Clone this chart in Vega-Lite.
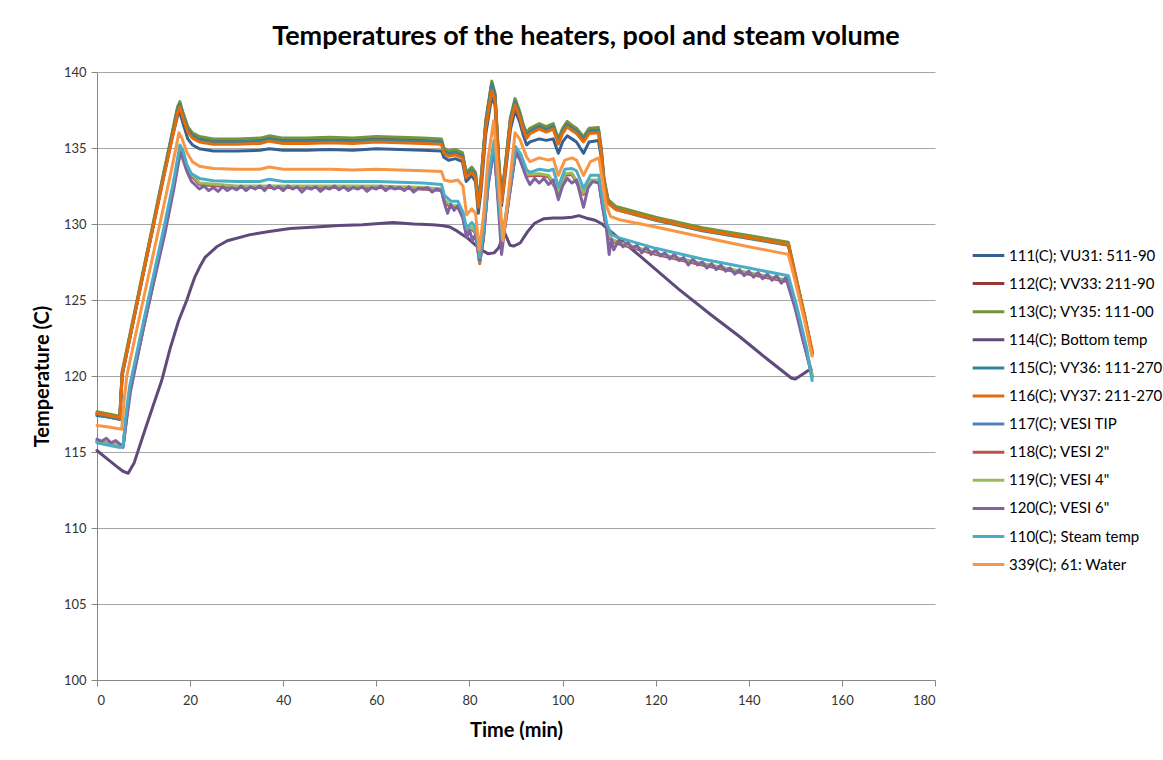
{
"$schema":"https://vega.github.io/schema/vega-lite/v6.json",
"width":838,"height":608,
"autosize":{"type":"none"},
"padding":{"left":97,"top":72,"right":228,"bottom":80},
"background":"white",
"config":{"font":"Lato","view":{"stroke":null}},
"title":{"text":"Temperatures of the heaters, pool and steam volume","fontSize":27,"fontWeight":"bold","font":"Lato","color":"#000000","anchor":"middle","dx":70,"offset":15},
"data":{"values":[
{"k":"a111","t":0,"v":117.4},{"k":"a111","t":2.5,"v":117.3},{"k":"a111","t":4.9,"v":117.15},{"k":"a111","t":5.4,"v":120.0},{"k":"a111","t":8,"v":123.9},{"k":"a111","t":11,"v":128.3},{"k":"a111","t":14,"v":132.7},{"k":"a111","t":16,"v":135.5},{"k":"a111","t":17.3,"v":137.1},{"k":"a111","t":17.8,"v":137.35},{"k":"a111","t":18.5,"v":136.6},{"k":"a111","t":19.5,"v":135.6},{"k":"a111","t":20.5,"v":135.2},{"k":"a111","t":22,"v":134.95},{"k":"a111","t":25,"v":134.8},{"k":"a111","t":30,"v":134.8},{"k":"a111","t":35,"v":134.85},{"k":"a111","t":37,"v":134.95},{"k":"a111","t":40,"v":134.85},{"k":"a111","t":45,"v":134.85},{"k":"a111","t":50,"v":134.9},{"k":"a111","t":55,"v":134.85},{"k":"a111","t":60,"v":134.95},{"k":"a111","t":65,"v":134.9},{"k":"a111","t":70,"v":134.85},{"k":"a111","t":74,"v":134.8},{"k":"a111","t":74.5,"v":134.4},{"k":"a111","t":75.5,"v":134.2},{"k":"a111","t":77,"v":134.3},{"k":"a111","t":78.5,"v":134.1},{"k":"a111","t":79.3,"v":132.8},{"k":"a111","t":80.5,"v":133.2},{"k":"a111","t":81.3,"v":132.8},{"k":"a111","t":81.9,"v":130.7},{"k":"a111","t":82.5,"v":132.2},{"k":"a111","t":83.5,"v":135.9},{"k":"a111","t":84.8,"v":138.4},{"k":"a111","t":85.5,"v":137.8},{"k":"a111","t":86.3,"v":133.5},{"k":"a111","t":86.9,"v":131.2},{"k":"a111","t":87.6,"v":133.0},{"k":"a111","t":88.8,"v":136.2},{"k":"a111","t":89.8,"v":137.5},{"k":"a111","t":90.8,"v":136.7},{"k":"a111","t":91.6,"v":135.8},{"k":"a111","t":92.3,"v":135.2},{"k":"a111","t":93,"v":135.4},{"k":"a111","t":95,"v":135.6},{"k":"a111","t":96.5,"v":135.5},{"k":"a111","t":98,"v":135.6},{"k":"a111","t":99.1,"v":134.65},{"k":"a111","t":100,"v":135.4},{"k":"a111","t":101,"v":135.8},{"k":"a111","t":102,"v":135.6},{"k":"a111","t":103,"v":135.4},{"k":"a111","t":104.5,"v":134.65},{"k":"a111","t":105.7,"v":135.4},{"k":"a111","t":107.7,"v":135.5},{"k":"a111","t":108.3,"v":134.4},{"k":"a111","t":108.9,"v":132.7},{"k":"a111","t":109.8,"v":131.4},{"k":"a111","t":111.5,"v":131.0},{"k":"a111","t":120,"v":130.3},{"k":"a111","t":130,"v":129.6},{"k":"a111","t":140,"v":129.1},{"k":"a111","t":148.5,"v":128.65},{"k":"a111","t":150,"v":126.6},{"k":"a111","t":152,"v":123.9},{"k":"a111","t":153.6,"v":121.5},
{"k":"a112","t":0,"v":117.55},{"k":"a112","t":2.5,"v":117.4},{"k":"a112","t":4.9,"v":117.25},{"k":"a112","t":5.4,"v":120.2},{"k":"a112","t":8,"v":124.0},{"k":"a112","t":11,"v":128.4},{"k":"a112","t":14,"v":132.8},{"k":"a112","t":16,"v":135.7},{"k":"a112","t":17.3,"v":137.6},{"k":"a112","t":17.8,"v":137.95},{"k":"a112","t":18.5,"v":137.2},{"k":"a112","t":19.5,"v":136.3},{"k":"a112","t":20.5,"v":135.9},{"k":"a112","t":22,"v":135.65},{"k":"a112","t":25,"v":135.5},{"k":"a112","t":30,"v":135.5},{"k":"a112","t":35,"v":135.55},{"k":"a112","t":37,"v":135.7},{"k":"a112","t":40,"v":135.55},{"k":"a112","t":45,"v":135.55},{"k":"a112","t":50,"v":135.6},{"k":"a112","t":55,"v":135.55},{"k":"a112","t":60,"v":135.65},{"k":"a112","t":65,"v":135.6},{"k":"a112","t":70,"v":135.55},{"k":"a112","t":74,"v":135.5},{"k":"a112","t":74.5,"v":134.9},{"k":"a112","t":75.5,"v":134.7},{"k":"a112","t":77,"v":134.8},{"k":"a112","t":78.5,"v":134.6},{"k":"a112","t":79.3,"v":133.3},{"k":"a112","t":80.5,"v":133.65},{"k":"a112","t":81.3,"v":133.3},{"k":"a112","t":81.9,"v":131.4},{"k":"a112","t":82.5,"v":132.9},{"k":"a112","t":83.5,"v":136.7},{"k":"a112","t":84.8,"v":139.3},{"k":"a112","t":85.5,"v":138.5},{"k":"a112","t":86.3,"v":134.1},{"k":"a112","t":86.9,"v":131.7},{"k":"a112","t":87.6,"v":133.5},{"k":"a112","t":88.8,"v":136.9},{"k":"a112","t":89.8,"v":138.15},{"k":"a112","t":90.8,"v":137.3},{"k":"a112","t":91.6,"v":136.4},{"k":"a112","t":92.3,"v":135.9},{"k":"a112","t":93,"v":136.2},{"k":"a112","t":95,"v":136.5},{"k":"a112","t":96.5,"v":136.3},{"k":"a112","t":98,"v":136.5},{"k":"a112","t":99.1,"v":135.5},{"k":"a112","t":100,"v":136.2},{"k":"a112","t":101,"v":136.65},{"k":"a112","t":102,"v":136.4},{"k":"a112","t":103,"v":136.2},{"k":"a112","t":104.5,"v":135.65},{"k":"a112","t":105.7,"v":136.2},{"k":"a112","t":107.7,"v":136.25},{"k":"a112","t":108.3,"v":134.9},{"k":"a112","t":108.9,"v":132.9},{"k":"a112","t":109.8,"v":131.5},{"k":"a112","t":111.5,"v":131.05},{"k":"a112","t":120,"v":130.35},{"k":"a112","t":130,"v":129.65},{"k":"a112","t":140,"v":129.15},{"k":"a112","t":148.5,"v":128.7},{"k":"a112","t":150,"v":126.6},{"k":"a112","t":152,"v":123.9},{"k":"a112","t":153.6,"v":121.5},
{"k":"a113","t":0,"v":117.65},{"k":"a113","t":2.5,"v":117.5},{"k":"a113","t":4.9,"v":117.35},{"k":"a113","t":5.4,"v":120.3},{"k":"a113","t":8,"v":124.1},{"k":"a113","t":11,"v":128.5},{"k":"a113","t":14,"v":132.9},{"k":"a113","t":16,"v":135.8},{"k":"a113","t":17.3,"v":137.7},{"k":"a113","t":17.8,"v":138.05},{"k":"a113","t":18.5,"v":137.3},{"k":"a113","t":19.5,"v":136.4},{"k":"a113","t":20.5,"v":136.0},{"k":"a113","t":22,"v":135.75},{"k":"a113","t":25,"v":135.6},{"k":"a113","t":30,"v":135.6},{"k":"a113","t":35,"v":135.65},{"k":"a113","t":37,"v":135.8},{"k":"a113","t":40,"v":135.65},{"k":"a113","t":45,"v":135.65},{"k":"a113","t":50,"v":135.7},{"k":"a113","t":55,"v":135.65},{"k":"a113","t":60,"v":135.75},{"k":"a113","t":65,"v":135.7},{"k":"a113","t":70,"v":135.65},{"k":"a113","t":74,"v":135.6},{"k":"a113","t":74.5,"v":135.0},{"k":"a113","t":75.5,"v":134.8},{"k":"a113","t":77,"v":134.9},{"k":"a113","t":78.5,"v":134.7},{"k":"a113","t":79.3,"v":133.4},{"k":"a113","t":80.5,"v":133.75},{"k":"a113","t":81.3,"v":133.4},{"k":"a113","t":81.9,"v":131.5},{"k":"a113","t":82.5,"v":133.0},{"k":"a113","t":83.5,"v":136.8},{"k":"a113","t":84.8,"v":139.4},{"k":"a113","t":85.5,"v":138.6},{"k":"a113","t":86.3,"v":134.2},{"k":"a113","t":86.9,"v":131.8},{"k":"a113","t":87.6,"v":133.6},{"k":"a113","t":88.8,"v":137.0},{"k":"a113","t":89.8,"v":138.25},{"k":"a113","t":90.8,"v":137.4},{"k":"a113","t":91.6,"v":136.5},{"k":"a113","t":92.3,"v":136.0},{"k":"a113","t":93,"v":136.3},{"k":"a113","t":95,"v":136.6},{"k":"a113","t":96.5,"v":136.4},{"k":"a113","t":98,"v":136.6},{"k":"a113","t":99.1,"v":135.6},{"k":"a113","t":100,"v":136.3},{"k":"a113","t":101,"v":136.75},{"k":"a113","t":102,"v":136.5},{"k":"a113","t":103,"v":136.3},{"k":"a113","t":104.5,"v":135.75},{"k":"a113","t":105.7,"v":136.3},{"k":"a113","t":107.7,"v":136.35},{"k":"a113","t":108.3,"v":135.0},{"k":"a113","t":108.9,"v":133.0},{"k":"a113","t":109.8,"v":131.6},{"k":"a113","t":111.5,"v":131.15},{"k":"a113","t":120,"v":130.45},{"k":"a113","t":130,"v":129.75},{"k":"a113","t":140,"v":129.25},{"k":"a113","t":148.5,"v":128.8},{"k":"a113","t":150,"v":126.7},{"k":"a113","t":152,"v":124.0},{"k":"a113","t":153.6,"v":121.6},
{"k":"a114","t":0,"v":115.1},{"k":"a114","t":2,"v":114.6},{"k":"a114","t":4,"v":114.1},{"k":"a114","t":5.5,"v":113.75},{"k":"a114","t":6.7,"v":113.6},{"k":"a114","t":8,"v":114.3},{"k":"a114","t":10.3,"v":116.45},{"k":"a114","t":12,"v":118.0},{"k":"a114","t":13.9,"v":119.7},{"k":"a114","t":15.7,"v":121.8},{"k":"a114","t":17.5,"v":123.6},{"k":"a114","t":19.3,"v":125.0},{"k":"a114","t":20.3,"v":125.9},{"k":"a114","t":21,"v":126.5},{"k":"a114","t":22.1,"v":127.2},{"k":"a114","t":23.2,"v":127.8},{"k":"a114","t":25.7,"v":128.5},{"k":"a114","t":28,"v":128.9},{"k":"a114","t":32.9,"v":129.3},{"k":"a114","t":37,"v":129.5},{"k":"a114","t":41.5,"v":129.7},{"k":"a114","t":47,"v":129.8},{"k":"a114","t":52,"v":129.9},{"k":"a114","t":57,"v":129.95},{"k":"a114","t":63.6,"v":130.1},{"k":"a114","t":68,"v":130.0},{"k":"a114","t":72,"v":129.95},{"k":"a114","t":74,"v":129.9},{"k":"a114","t":75.8,"v":129.8},{"k":"a114","t":77,"v":129.6},{"k":"a114","t":78.5,"v":129.3},{"k":"a114","t":79.5,"v":129.1},{"k":"a114","t":81,"v":128.7},{"k":"a114","t":82.5,"v":128.3},{"k":"a114","t":84,"v":128.05},{"k":"a114","t":85.3,"v":128.1},{"k":"a114","t":86.2,"v":128.4},{"k":"a114","t":86.9,"v":128.9},{"k":"a114","t":87.6,"v":129.4},{"k":"a114","t":88.7,"v":128.6},{"k":"a114","t":89.5,"v":128.55},{"k":"a114","t":90.9,"v":128.75},{"k":"a114","t":92.5,"v":129.5},{"k":"a114","t":94,"v":130.05},{"k":"a114","t":96,"v":130.35},{"k":"a114","t":98,"v":130.4},{"k":"a114","t":100,"v":130.4},{"k":"a114","t":102,"v":130.45},{"k":"a114","t":103.5,"v":130.55},{"k":"a114","t":105,"v":130.4},{"k":"a114","t":107,"v":130.25},{"k":"a114","t":108.5,"v":130.0},{"k":"a114","t":110,"v":129.6},{"k":"a114","t":116.6,"v":127.9},{"k":"a114","t":125,"v":125.7},{"k":"a114","t":132,"v":124.0},{"k":"a114","t":138,"v":122.6},{"k":"a114","t":144,"v":121.1},{"k":"a114","t":149.2,"v":119.85},{"k":"a114","t":150,"v":119.8},{"k":"a114","t":151.5,"v":120.1},{"k":"a114","t":152.7,"v":120.35},
{"k":"a115","t":0,"v":117.45},{"k":"a115","t":2.5,"v":117.3},{"k":"a115","t":4.9,"v":117.15},{"k":"a115","t":5.4,"v":120.1},{"k":"a115","t":8,"v":123.9},{"k":"a115","t":11,"v":128.3},{"k":"a115","t":14,"v":132.7},{"k":"a115","t":16,"v":135.6},{"k":"a115","t":17.3,"v":137.5},{"k":"a115","t":17.8,"v":137.85},{"k":"a115","t":18.5,"v":137.1},{"k":"a115","t":19.5,"v":136.2},{"k":"a115","t":20.5,"v":135.8},{"k":"a115","t":22,"v":135.55},{"k":"a115","t":25,"v":135.4},{"k":"a115","t":30,"v":135.4},{"k":"a115","t":35,"v":135.45},{"k":"a115","t":37,"v":135.6},{"k":"a115","t":40,"v":135.45},{"k":"a115","t":45,"v":135.45},{"k":"a115","t":50,"v":135.5},{"k":"a115","t":55,"v":135.45},{"k":"a115","t":60,"v":135.55},{"k":"a115","t":65,"v":135.5},{"k":"a115","t":70,"v":135.45},{"k":"a115","t":74,"v":135.4},{"k":"a115","t":74.5,"v":134.8},{"k":"a115","t":75.5,"v":134.6},{"k":"a115","t":77,"v":134.7},{"k":"a115","t":78.5,"v":134.5},{"k":"a115","t":79.3,"v":133.2},{"k":"a115","t":80.5,"v":133.55},{"k":"a115","t":81.3,"v":133.2},{"k":"a115","t":81.9,"v":131.3},{"k":"a115","t":82.5,"v":132.8},{"k":"a115","t":83.5,"v":136.6},{"k":"a115","t":84.8,"v":139.2},{"k":"a115","t":85.5,"v":138.4},{"k":"a115","t":86.3,"v":134.0},{"k":"a115","t":86.9,"v":131.6},{"k":"a115","t":87.6,"v":133.4},{"k":"a115","t":88.8,"v":136.8},{"k":"a115","t":89.8,"v":138.05},{"k":"a115","t":90.8,"v":137.2},{"k":"a115","t":91.6,"v":136.3},{"k":"a115","t":92.3,"v":135.8},{"k":"a115","t":93,"v":136.1},{"k":"a115","t":95,"v":136.4},{"k":"a115","t":96.5,"v":136.2},{"k":"a115","t":98,"v":136.4},{"k":"a115","t":99.1,"v":135.4},{"k":"a115","t":100,"v":136.1},{"k":"a115","t":101,"v":136.55},{"k":"a115","t":102,"v":136.3},{"k":"a115","t":103,"v":136.1},{"k":"a115","t":104.5,"v":135.55},{"k":"a115","t":105.7,"v":136.1},{"k":"a115","t":107.7,"v":136.15},{"k":"a115","t":108.3,"v":134.8},{"k":"a115","t":108.9,"v":132.8},{"k":"a115","t":109.8,"v":131.4},{"k":"a115","t":111.5,"v":130.95},{"k":"a115","t":120,"v":130.25},{"k":"a115","t":130,"v":129.55},{"k":"a115","t":140,"v":129.05},{"k":"a115","t":148.5,"v":128.6},{"k":"a115","t":150,"v":126.5},{"k":"a115","t":152,"v":123.8},{"k":"a115","t":153.6,"v":121.4},
{"k":"a116","t":0,"v":117.55},{"k":"a116","t":2.5,"v":117.4},{"k":"a116","t":4.9,"v":117.25},{"k":"a116","t":5.4,"v":120.1},{"k":"a116","t":8,"v":123.9},{"k":"a116","t":11,"v":128.3},{"k":"a116","t":14,"v":132.6},{"k":"a116","t":16,"v":135.4},{"k":"a116","t":17.3,"v":137.3},{"k":"a116","t":17.8,"v":137.7},{"k":"a116","t":18.5,"v":136.95},{"k":"a116","t":19.5,"v":136.05},{"k":"a116","t":20.5,"v":135.65},{"k":"a116","t":22,"v":135.4},{"k":"a116","t":25,"v":135.25},{"k":"a116","t":30,"v":135.25},{"k":"a116","t":35,"v":135.3},{"k":"a116","t":37,"v":135.45},{"k":"a116","t":40,"v":135.3},{"k":"a116","t":45,"v":135.3},{"k":"a116","t":50,"v":135.35},{"k":"a116","t":55,"v":135.3},{"k":"a116","t":60,"v":135.4},{"k":"a116","t":65,"v":135.35},{"k":"a116","t":70,"v":135.3},{"k":"a116","t":74,"v":135.25},{"k":"a116","t":74.5,"v":134.65},{"k":"a116","t":75.5,"v":134.45},{"k":"a116","t":77,"v":134.55},{"k":"a116","t":78.5,"v":134.35},{"k":"a116","t":79.3,"v":133.05},{"k":"a116","t":80.5,"v":133.4},{"k":"a116","t":81.3,"v":133.05},{"k":"a116","t":81.9,"v":131.1},{"k":"a116","t":82.5,"v":132.6},{"k":"a116","t":83.5,"v":136.3},{"k":"a116","t":84.8,"v":138.8},{"k":"a116","t":85.5,"v":138.1},{"k":"a116","t":86.3,"v":133.8},{"k":"a116","t":86.9,"v":131.4},{"k":"a116","t":87.6,"v":133.2},{"k":"a116","t":88.8,"v":136.6},{"k":"a116","t":89.8,"v":137.85},{"k":"a116","t":90.8,"v":137.0},{"k":"a116","t":91.6,"v":136.15},{"k":"a116","t":92.3,"v":135.65},{"k":"a116","t":93,"v":135.95},{"k":"a116","t":95,"v":136.25},{"k":"a116","t":96.5,"v":136.05},{"k":"a116","t":98,"v":136.25},{"k":"a116","t":99.1,"v":135.25},{"k":"a116","t":100,"v":135.95},{"k":"a116","t":101,"v":136.4},{"k":"a116","t":102,"v":136.15},{"k":"a116","t":103,"v":135.95},{"k":"a116","t":104.5,"v":135.4},{"k":"a116","t":105.7,"v":135.95},{"k":"a116","t":107.7,"v":136.0},{"k":"a116","t":108.3,"v":134.65},{"k":"a116","t":108.9,"v":132.7},{"k":"a116","t":109.8,"v":131.35},{"k":"a116","t":111.5,"v":130.95},{"k":"a116","t":120,"v":130.3},{"k":"a116","t":130,"v":129.6},{"k":"a116","t":140,"v":129.1},{"k":"a116","t":148.5,"v":128.65},{"k":"a116","t":150,"v":126.6},{"k":"a116","t":152,"v":123.9},{"k":"a116","t":153.6,"v":121.7},
{"k":"a117","t":0,"v":115.7},{"k":"a117","t":5,"v":115.45},{"k":"a117","t":5.6,"v":115.4},{"k":"a117","t":7,"v":118.95},{"k":"a117","t":10,"v":123.25},{"k":"a117","t":14.4,"v":129.45},{"k":"a117","t":16.5,"v":132.55},{"k":"a117","t":17.8,"v":134.85},{"k":"a117","t":19.3,"v":133.55},{"k":"a117","t":22,"v":132.65},{"k":"a117","t":30,"v":132.45},{"k":"a117","t":40,"v":132.45},{"k":"a117","t":50,"v":132.45},{"k":"a117","t":60,"v":132.45},{"k":"a117","t":70,"v":132.35},{"k":"a117","t":74,"v":132.25},{"k":"a117","t":74.6,"v":131.55},{"k":"a117","t":76,"v":131.15},{"k":"a117","t":77.5,"v":131.15},{"k":"a117","t":78.6,"v":130.45},{"k":"a117","t":79.4,"v":129.35},{"k":"a117","t":80.5,"v":129.75},{"k":"a117","t":81.3,"v":129.45},{"k":"a117","t":82.2,"v":127.45},{"k":"a117","t":83,"v":129.15},{"k":"a117","t":84,"v":132.65},{"k":"a117","t":85.3,"v":135.15},{"k":"a117","t":86.2,"v":131.65},{"k":"a117","t":87,"v":128.65},{"k":"a117","t":88,"v":130.65},{"k":"a117","t":89.9,"v":134.75},{"k":"a117","t":91,"v":134.25},{"k":"a117","t":92.3,"v":133.2},{"k":"a117","t":95,"v":133.25},{"k":"a117","t":97,"v":133.15},{"k":"a117","t":99.1,"v":132.1},{"k":"a117","t":100.5,"v":133.25},{"k":"a117","t":102,"v":133.3},{"k":"a117","t":104.5,"v":132.0},{"k":"a117","t":106,"v":132.85},{"k":"a117","t":107.8,"v":132.85},{"k":"a117","t":108.5,"v":131.45},{"k":"a117","t":109.5,"v":129.65},{"k":"a117","t":110.5,"v":128.95},{"k":"a117","t":112,"v":128.75},{"k":"a117","t":120,"v":128.05},{"k":"a117","t":130,"v":127.35},{"k":"a117","t":140,"v":126.75},{"k":"a117","t":148.5,"v":126.25},{"k":"a117","t":150.3,"v":124.25},{"k":"a117","t":152.4,"v":121.55},{"k":"a117","t":153.6,"v":119.9},
{"k":"a118","t":0,"v":115.7},{"k":"a118","t":5,"v":115.45},{"k":"a118","t":5.6,"v":115.4},{"k":"a118","t":7,"v":118.9},{"k":"a118","t":10,"v":123.2},{"k":"a118","t":14.4,"v":129.4},{"k":"a118","t":16.5,"v":132.5},{"k":"a118","t":17.8,"v":134.8},{"k":"a118","t":19.3,"v":133.5},{"k":"a118","t":22,"v":132.6},{"k":"a118","t":30,"v":132.4},{"k":"a118","t":40,"v":132.4},{"k":"a118","t":50,"v":132.4},{"k":"a118","t":60,"v":132.4},{"k":"a118","t":70,"v":132.3},{"k":"a118","t":74,"v":132.2},{"k":"a118","t":74.6,"v":131.5},{"k":"a118","t":76,"v":131.1},{"k":"a118","t":77.5,"v":131.1},{"k":"a118","t":78.6,"v":130.4},{"k":"a118","t":79.4,"v":129.3},{"k":"a118","t":80.5,"v":129.7},{"k":"a118","t":81.3,"v":129.4},{"k":"a118","t":82.2,"v":127.4},{"k":"a118","t":83,"v":129.1},{"k":"a118","t":84,"v":132.6},{"k":"a118","t":85.3,"v":135.1},{"k":"a118","t":86.2,"v":131.6},{"k":"a118","t":87,"v":128.6},{"k":"a118","t":88,"v":130.6},{"k":"a118","t":89.9,"v":134.7},{"k":"a118","t":91,"v":134.2},{"k":"a118","t":92.3,"v":133.15},{"k":"a118","t":95,"v":133.2},{"k":"a118","t":97,"v":133.1},{"k":"a118","t":99.1,"v":132.05},{"k":"a118","t":100.5,"v":133.2},{"k":"a118","t":102,"v":133.25},{"k":"a118","t":104.5,"v":131.95},{"k":"a118","t":106,"v":132.8},{"k":"a118","t":107.8,"v":132.8},{"k":"a118","t":108.5,"v":131.4},{"k":"a118","t":109.5,"v":129.6},{"k":"a118","t":110.5,"v":128.9},{"k":"a118","t":112,"v":128.7},{"k":"a118","t":120,"v":128.0},{"k":"a118","t":130,"v":127.3},{"k":"a118","t":140,"v":126.7},{"k":"a118","t":148.5,"v":126.2},{"k":"a118","t":150.3,"v":124.2},{"k":"a118","t":152.4,"v":121.5},{"k":"a118","t":153.6,"v":120.0},
{"k":"a119","t":0,"v":115.7},{"k":"a119","t":5,"v":115.45},{"k":"a119","t":5.6,"v":115.4},{"k":"a119","t":7,"v":119.0},{"k":"a119","t":10,"v":123.3},{"k":"a119","t":14.4,"v":129.5},{"k":"a119","t":16.5,"v":132.6},{"k":"a119","t":17.8,"v":134.9},{"k":"a119","t":19.3,"v":133.6},{"k":"a119","t":22,"v":132.7},{"k":"a119","t":30,"v":132.5},{"k":"a119","t":40,"v":132.5},{"k":"a119","t":50,"v":132.5},{"k":"a119","t":60,"v":132.5},{"k":"a119","t":70,"v":132.4},{"k":"a119","t":74,"v":132.3},{"k":"a119","t":74.6,"v":131.6},{"k":"a119","t":76,"v":131.2},{"k":"a119","t":77.5,"v":131.2},{"k":"a119","t":78.6,"v":130.5},{"k":"a119","t":79.4,"v":129.4},{"k":"a119","t":80.5,"v":129.8},{"k":"a119","t":81.3,"v":129.5},{"k":"a119","t":82.2,"v":127.5},{"k":"a119","t":83,"v":129.2},{"k":"a119","t":84,"v":132.7},{"k":"a119","t":85.3,"v":135.2},{"k":"a119","t":86.2,"v":131.7},{"k":"a119","t":87,"v":128.7},{"k":"a119","t":88,"v":130.7},{"k":"a119","t":89.9,"v":134.8},{"k":"a119","t":91,"v":134.3},{"k":"a119","t":92.3,"v":133.25},{"k":"a119","t":95,"v":133.3},{"k":"a119","t":97,"v":133.2},{"k":"a119","t":99.1,"v":132.15},{"k":"a119","t":100.5,"v":133.3},{"k":"a119","t":102,"v":133.35},{"k":"a119","t":104.5,"v":132.05},{"k":"a119","t":106,"v":132.9},{"k":"a119","t":107.8,"v":132.9},{"k":"a119","t":108.5,"v":131.5},{"k":"a119","t":109.5,"v":129.7},{"k":"a119","t":110.5,"v":129.0},{"k":"a119","t":112,"v":128.8},{"k":"a119","t":120,"v":128.1},{"k":"a119","t":130,"v":127.4},{"k":"a119","t":140,"v":126.8},{"k":"a119","t":148.5,"v":126.3},{"k":"a119","t":150.3,"v":124.3},{"k":"a119","t":152.4,"v":121.6},{"k":"a119","t":153.6,"v":120.1},
{"k":"a120","t":0,"v":115.85},{"k":"a120","t":1,"v":115.7},{"k":"a120","t":2,"v":115.9},{"k":"a120","t":3,"v":115.6},{"k":"a120","t":4,"v":115.75},{"k":"a120","t":5,"v":115.5},{"k":"a120","t":5.6,"v":115.3},{"k":"a120","t":6.3,"v":117.0},{"k":"a120","t":7.2,"v":119.0},{"k":"a120","t":10,"v":123.2},{"k":"a120","t":12,"v":125.9},{"k":"a120","t":14.6,"v":129.4},{"k":"a120","t":16.5,"v":132.3},{"k":"a120","t":17.9,"v":134.7},{"k":"a120","t":18.6,"v":134.3},{"k":"a120","t":19.4,"v":133.4},{"k":"a120","t":20.3,"v":132.8},{"k":"a120","t":21,"v":132.6},{"k":"a120","t":22,"v":132.3},{"k":"a120","t":23,"v":132.5},{"k":"a120","t":24,"v":132.2},{"k":"a120","t":25,"v":132.4},{"k":"a120","t":26,"v":132.15},{"k":"a120","t":27,"v":132.45},{"k":"a120","t":28,"v":132.2},{"k":"a120","t":29,"v":132.4},{"k":"a120","t":30,"v":132.25},{"k":"a120","t":31,"v":132.5},{"k":"a120","t":32,"v":132.2},{"k":"a120","t":33,"v":132.45},{"k":"a120","t":34,"v":132.3},{"k":"a120","t":35,"v":132.5},{"k":"a120","t":36,"v":132.2},{"k":"a120","t":37,"v":132.55},{"k":"a120","t":38,"v":132.3},{"k":"a120","t":39,"v":132.45},{"k":"a120","t":40,"v":132.2},{"k":"a120","t":41,"v":132.5},{"k":"a120","t":42,"v":132.3},{"k":"a120","t":43,"v":132.45},{"k":"a120","t":44,"v":132.1},{"k":"a120","t":45,"v":132.4},{"k":"a120","t":46,"v":132.3},{"k":"a120","t":47,"v":132.45},{"k":"a120","t":48,"v":132.15},{"k":"a120","t":49,"v":132.4},{"k":"a120","t":50,"v":132.3},{"k":"a120","t":51,"v":132.5},{"k":"a120","t":52,"v":132.25},{"k":"a120","t":53,"v":132.45},{"k":"a120","t":54,"v":132.2},{"k":"a120","t":55,"v":132.4},{"k":"a120","t":56,"v":132.3},{"k":"a120","t":57,"v":132.45},{"k":"a120","t":58,"v":132.15},{"k":"a120","t":59,"v":132.4},{"k":"a120","t":60,"v":132.3},{"k":"a120","t":61,"v":132.5},{"k":"a120","t":62,"v":132.2},{"k":"a120","t":63,"v":132.45},{"k":"a120","t":64,"v":132.3},{"k":"a120","t":65,"v":132.4},{"k":"a120","t":66,"v":132.2},{"k":"a120","t":67,"v":132.45},{"k":"a120","t":68,"v":132.1},{"k":"a120","t":69,"v":132.35},{"k":"a120","t":70,"v":132.3},{"k":"a120","t":71,"v":132.4},{"k":"a120","t":72,"v":132.1},{"k":"a120","t":73,"v":132.3},{"k":"a120","t":74,"v":132.2},{"k":"a120","t":74.6,"v":131.4},{"k":"a120","t":75.3,"v":130.7},{"k":"a120","t":76,"v":131.3},{"k":"a120","t":76.7,"v":130.9},{"k":"a120","t":77.5,"v":131.2},{"k":"a120","t":78.6,"v":130.4},{"k":"a120","t":79.4,"v":129.1},{"k":"a120","t":80,"v":129.6},{"k":"a120","t":80.7,"v":128.9},{"k":"a120","t":81.3,"v":129.3},{"k":"a120","t":82.2,"v":127.6},{"k":"a120","t":83,"v":129.0},{"k":"a120","t":84,"v":132.5},{"k":"a120","t":85.3,"v":135.0},{"k":"a120","t":86.2,"v":131.2},{"k":"a120","t":86.9,"v":128.0},{"k":"a120","t":88,"v":130.8},{"k":"a120","t":90,"v":134.8},{"k":"a120","t":91,"v":134.1},{"k":"a120","t":92.3,"v":133.0},{"k":"a120","t":93,"v":132.6},{"k":"a120","t":94,"v":133.0},{"k":"a120","t":95,"v":132.7},{"k":"a120","t":96,"v":133.0},{"k":"a120","t":97,"v":132.6},{"k":"a120","t":98,"v":132.9},{"k":"a120","t":99.1,"v":131.6},{"k":"a120","t":100,"v":132.5},{"k":"a120","t":101,"v":133.0},{"k":"a120","t":102,"v":132.7},{"k":"a120","t":103,"v":132.9},{"k":"a120","t":104.5,"v":131.1},{"k":"a120","t":105.5,"v":132.4},{"k":"a120","t":106.5,"v":132.8},{"k":"a120","t":107.8,"v":132.7},{"k":"a120","t":108.5,"v":131.3},{"k":"a120","t":109.5,"v":129.5},{"k":"a120","t":110,"v":128.0},{"k":"a120","t":110.5,"v":129.0},{"k":"a120","t":111,"v":128.3},{"k":"a120","t":112,"v":128.9},{"k":"a120","t":113,"v":128.5},{"k":"a120","t":114,"v":128.8},{"k":"a120","t":115,"v":128.4},{"k":"a120","t":116,"v":128.6},{"k":"a120","t":117,"v":128.1},{"k":"a120","t":118,"v":128.5},{"k":"a120","t":119,"v":128.0},{"k":"a120","t":120,"v":128.3},{"k":"a120","t":121,"v":127.9},{"k":"a120","t":122,"v":128.1},{"k":"a120","t":123,"v":127.7},{"k":"a120","t":124,"v":128.0},{"k":"a120","t":125,"v":127.6},{"k":"a120","t":126,"v":127.8},{"k":"a120","t":127,"v":127.3},{"k":"a120","t":128,"v":127.7},{"k":"a120","t":129,"v":127.3},{"k":"a120","t":130,"v":127.5},{"k":"a120","t":131,"v":127.1},{"k":"a120","t":132,"v":127.4},{"k":"a120","t":133,"v":127.0},{"k":"a120","t":134,"v":127.3},{"k":"a120","t":135,"v":126.9},{"k":"a120","t":136,"v":127.1},{"k":"a120","t":137,"v":126.7},{"k":"a120","t":138,"v":127.0},{"k":"a120","t":139,"v":126.6},{"k":"a120","t":140,"v":126.9},{"k":"a120","t":141,"v":126.5},{"k":"a120","t":142,"v":126.8},{"k":"a120","t":143,"v":126.4},{"k":"a120","t":144,"v":126.7},{"k":"a120","t":145,"v":126.3},{"k":"a120","t":146,"v":126.6},{"k":"a120","t":147,"v":126.1},{"k":"a120","t":148,"v":126.5},{"k":"a120","t":148.6,"v":125.8},{"k":"a120","t":150,"v":124.4},{"k":"a120","t":151.5,"v":122.5},{"k":"a120","t":153,"v":120.8},{"k":"a120","t":153.4,"v":120.4},
{"k":"a110","t":0,"v":115.6},{"k":"a110","t":2.5,"v":115.45},{"k":"a110","t":5,"v":115.3},{"k":"a110","t":5.6,"v":115.4},{"k":"a110","t":6.2,"v":117.4},{"k":"a110","t":7,"v":119.3},{"k":"a110","t":10,"v":123.6},{"k":"a110","t":14.4,"v":129.8},{"k":"a110","t":16.5,"v":132.9},{"k":"a110","t":17.8,"v":135.2},{"k":"a110","t":18.5,"v":134.8},{"k":"a110","t":19.3,"v":133.9},{"k":"a110","t":20.3,"v":133.3},{"k":"a110","t":22,"v":133.0},{"k":"a110","t":25,"v":132.85},{"k":"a110","t":30,"v":132.8},{"k":"a110","t":35,"v":132.8},{"k":"a110","t":37,"v":132.95},{"k":"a110","t":40,"v":132.8},{"k":"a110","t":45,"v":132.8},{"k":"a110","t":50,"v":132.8},{"k":"a110","t":55,"v":132.8},{"k":"a110","t":60,"v":132.8},{"k":"a110","t":65,"v":132.75},{"k":"a110","t":70,"v":132.7},{"k":"a110","t":74,"v":132.6},{"k":"a110","t":74.6,"v":131.9},{"k":"a110","t":76,"v":131.5},{"k":"a110","t":77.5,"v":131.5},{"k":"a110","t":78.6,"v":130.8},{"k":"a110","t":79.4,"v":129.7},{"k":"a110","t":80.5,"v":130.1},{"k":"a110","t":81.3,"v":129.8},{"k":"a110","t":82.2,"v":127.8},{"k":"a110","t":83,"v":129.5},{"k":"a110","t":84,"v":133.0},{"k":"a110","t":85.3,"v":135.5},{"k":"a110","t":86.2,"v":132.0},{"k":"a110","t":87,"v":129.0},{"k":"a110","t":88,"v":131.0},{"k":"a110","t":89.9,"v":135.1},{"k":"a110","t":91,"v":134.6},{"k":"a110","t":92.3,"v":133.55},{"k":"a110","t":93,"v":133.4},{"k":"a110","t":95,"v":133.6},{"k":"a110","t":97,"v":133.5},{"k":"a110","t":98,"v":133.6},{"k":"a110","t":99.1,"v":132.45},{"k":"a110","t":100.5,"v":133.6},{"k":"a110","t":102,"v":133.65},{"k":"a110","t":103,"v":133.5},{"k":"a110","t":104.5,"v":132.35},{"k":"a110","t":106,"v":133.2},{"k":"a110","t":107.8,"v":133.2},{"k":"a110","t":108.5,"v":131.8},{"k":"a110","t":109.5,"v":130.0},{"k":"a110","t":110.5,"v":129.3},{"k":"a110","t":112,"v":129.1},{"k":"a110","t":120,"v":128.4},{"k":"a110","t":130,"v":127.7},{"k":"a110","t":140,"v":127.1},{"k":"a110","t":148.5,"v":126.6},{"k":"a110","t":150.3,"v":124.6},{"k":"a110","t":152.4,"v":121.9},{"k":"a110","t":153.6,"v":119.7},
{"k":"a339","t":0,"v":116.75},{"k":"a339","t":2.5,"v":116.65},{"k":"a339","t":5.3,"v":116.5},{"k":"a339","t":5.8,"v":118.3},{"k":"a339","t":6.4,"v":120.0},{"k":"a339","t":8,"v":122.3},{"k":"a339","t":10,"v":125.1},{"k":"a339","t":13.5,"v":130.0},{"k":"a339","t":16.5,"v":134.3},{"k":"a339","t":17.6,"v":136.0},{"k":"a339","t":18.3,"v":135.6},{"k":"a339","t":19.3,"v":134.7},{"k":"a339","t":20.5,"v":134.1},{"k":"a339","t":22,"v":133.8},{"k":"a339","t":25,"v":133.65},{"k":"a339","t":30,"v":133.6},{"k":"a339","t":35,"v":133.6},{"k":"a339","t":37,"v":133.75},{"k":"a339","t":40,"v":133.6},{"k":"a339","t":45,"v":133.6},{"k":"a339","t":50,"v":133.6},{"k":"a339","t":55,"v":133.55},{"k":"a339","t":60,"v":133.6},{"k":"a339","t":65,"v":133.55},{"k":"a339","t":70,"v":133.5},{"k":"a339","t":74,"v":133.45},{"k":"a339","t":74.6,"v":132.9},{"k":"a339","t":76,"v":132.8},{"k":"a339","t":77.5,"v":132.9},{"k":"a339","t":78.6,"v":132.5},{"k":"a339","t":79.4,"v":130.6},{"k":"a339","t":80.5,"v":131.0},{"k":"a339","t":81.3,"v":130.7},{"k":"a339","t":82.1,"v":128.3},{"k":"a339","t":83,"v":130.5},{"k":"a339","t":84,"v":134.3},{"k":"a339","t":85.2,"v":136.8},{"k":"a339","t":86.2,"v":133.0},{"k":"a339","t":87.2,"v":128.9},{"k":"a339","t":88.2,"v":131.5},{"k":"a339","t":89.8,"v":136.0},{"k":"a339","t":90.8,"v":135.6},{"k":"a339","t":92.3,"v":134.4},{"k":"a339","t":93,"v":134.1},{"k":"a339","t":95,"v":134.35},{"k":"a339","t":97,"v":134.2},{"k":"a339","t":98,"v":134.3},{"k":"a339","t":99.1,"v":133.2},{"k":"a339","t":100.5,"v":134.2},{"k":"a339","t":102,"v":134.35},{"k":"a339","t":103,"v":134.2},{"k":"a339","t":104.5,"v":133.2},{"k":"a339","t":106,"v":134.1},{"k":"a339","t":107.8,"v":134.35},{"k":"a339","t":108.5,"v":133.0},{"k":"a339","t":109.3,"v":131.3},{"k":"a339","t":110.3,"v":130.5},{"k":"a339","t":112,"v":130.3},{"k":"a339","t":120,"v":129.8},{"k":"a339","t":130,"v":129.15},{"k":"a339","t":140,"v":128.5},{"k":"a339","t":148.5,"v":128.0},{"k":"a339","t":150,"v":126.2},{"k":"a339","t":152,"v":123.6},{"k":"a339","t":153.6,"v":121.3}
]},
"mark":{"type":"line","strokeWidth":3,"strokeJoin":"round","strokeCap":"round"},
"encoding":{
"x":{"field":"t","type":"quantitative","scale":{"domain":[0,180],"nice":false},
"axis":{"title":"Time (min)","values":[0,20,40,60,80,100,120,140,160,180],"grid":false,"domainColor":"#868686","tickColor":"#868686","tickSize":6,"labelFont":"Lato","labelFontSize":13,"labelColor":"#333333","labelPadding":8,"titleFont":"Lato","titleFontSize":20,"titleFontWeight":"bold","titleColor":"#000000","titlePadding":13}},
"y":{"field":"v","type":"quantitative","scale":{"domain":[100,140],"nice":false,"zero":false},
"axis":{"title":"Temperature (C)","values":[100,105,110,115,120,125,130,135,140],"grid":true,"gridColor":"#a6a6a6","domainColor":"#868686","tickColor":"#868686","tickSize":6,"labelFont":"Lato","labelFontSize":13,"labelColor":"#333333","labelPadding":5,"titleFont":"Lato","titleFontSize":20,"titleFontWeight":"bold","titleColor":"#000000","titlePadding":11}},
"color":{"field":"k","type":"nominal",
"scale":{"domain":["a111","a112","a113","a114","a115","a116","a117","a118","a119","a120","a110","a339"],
"range":["#376092","#953735","#77933C","#604A7B","#31859C","#E46C0A","#4F81BD","#C0504D","#9BBB59","#8064A2","#4BACC6","#F79646"]},
"legend":{"title":null,"orient":"none","legendX":874,"legendY":166,"padding":0,"symbolType":"stroke","symbolSize":1000,"symbolStrokeWidth":3,"labelFont":"Lato","labelFontSize":15,"labelColor":"#000000","labelOffset":3,"labelLimit":300,"rowPadding":2.1,
"labelExpr":"{'a111':'111(C); VU31: 511-90','a112':'112(C); VV33: 211-90','a113':'113(C); VY35: 111-00','a114':'114(C); Bottom temp','a115':'115(C); VY36: 111-270','a116':'116(C); VY37: 211-270','a117':'117(C); VESI TIP','a118':'118(C); VESI 2\"','a119':'119(C); VESI 4\"','a120':'120(C); VESI 6\"','a110':'110(C); Steam temp','a339':'339(C); 61: Water'}[datum.label]"}}
}
}
